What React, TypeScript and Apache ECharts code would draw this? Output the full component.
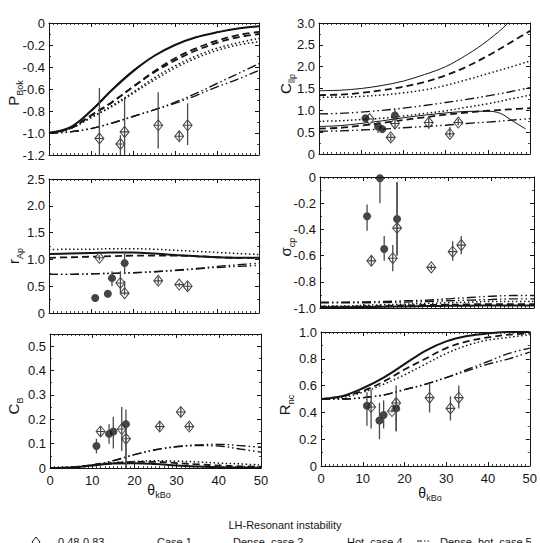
import React, { useEffect, useRef } from 'react';
import * as echarts from 'echarts';

// ---- shared abscissae ----
const THETA = [0, 5, 10, 15, 20, 25, 30, 35, 40, 45, 50];
const FILLED_THETA = [11, 14, 15, 18];
const OPEN_THETA = [12, 17, 18, 26, 31, 33];

// ---- P_Bok ----
const PBOK_SOLID_A = [-1, -0.95, -0.8, -0.61, -0.44, -0.3, -0.2, -0.13, -0.085, -0.05, -0.03];
const PBOK_SOLID_B = [-1, -0.95, -0.79, -0.6, -0.43, -0.3, -0.2, -0.13, -0.085, -0.05, -0.03];
const PBOK_DASHED_A = [-1, -0.96, -0.84, -0.72, -0.58, -0.44, -0.32, -0.23, -0.16, -0.11, -0.08];
const PBOK_DASHED_B = [-1, -0.96, -0.84, -0.72, -0.58, -0.45, -0.34, -0.25, -0.18, -0.13, -0.1];
const PBOK_DOTTED_A = [-1, -0.96, -0.86, -0.75, -0.63, -0.5, -0.39, -0.3, -0.23, -0.18, -0.14];
const PBOK_DOTTED_B = [-1, -0.96, -0.86, -0.76, -0.64, -0.52, -0.41, -0.32, -0.25, -0.2, -0.17];
const PBOK_DDD_A = [-1, -0.99, -0.96, -0.91, -0.85, -0.79, -0.72, -0.64, -0.55, -0.46, -0.37];
const PBOK_DDD_B = [-1, -0.99, -0.96, -0.91, -0.85, -0.79, -0.73, -0.66, -0.58, -0.51, -0.43];
const PBOK_OPEN = [-1.05, -1.1, -0.99, -0.93, -1.03, -0.93];
const PBOK_OPEN_LO = [-1.25, -1.25, -1.25, -1.14, -1.07, -1.11];
const PBOK_OPEN_HI = [-0.59, -1.02, -0.68, -0.63, -0.98, -0.73];

// ---- C_llp ----
const CLLP_SOLID_UP = [1.45, 1.46, 1.5, 1.57, 1.67, 1.82, 2.0, 2.27, 2.6, 3.02, 3.6];
const CLLP_DASHED_UP = [1.35, 1.36, 1.4, 1.46, 1.54, 1.65, 1.8, 2.0, 2.25, 2.53, 2.82];
const CLLP_DOTTED_UP = [1.3, 1.3, 1.32, 1.35, 1.4, 1.47, 1.57, 1.7, 1.84, 1.98, 2.13];
const CLLP_DDD_UP = [0.92, 0.93, 0.96, 1.0, 1.05, 1.11, 1.18, 1.25, 1.33, 1.42, 1.52];
const CLLP_DOTTED_LOW = [0.75, 0.76, 0.79, 0.82, 0.87, 0.93, 0.99, 1.07, 1.15, 1.25, 1.35];
const CLLP_SOLID_LOW_THETA = [0, 5, 10, 15, 20, 25, 30, 35, 40, 43, 46, 49];
const CLLP_SOLID_LOW = [0.63, 0.65, 0.7, 0.76, 0.83, 0.89, 0.94, 0.975, 0.98, 0.93, 0.75, 0.57];
const CLLP_DASHED_LOW = [0.58, 0.6, 0.65, 0.71, 0.78, 0.84, 0.9, 0.95, 0.99, 1.02, 1.05];
const CLLP_DDD_LOW = [0.52, 0.53, 0.55, 0.57, 0.6, 0.63, 0.66, 0.7, 0.73, 0.77, 0.81];
const CLLP_FILLED = [0.82, 0.63, 0.57, 0.88];
const CLLP_FILLED_LO = [0.82, 0.48, 0.57, 0.8];
const CLLP_FILLED_HI = [0.82, 0.76, 0.57, 1.03];
const CLLP_OPEN = [0.8, 0.38, 0.7, 0.72, 0.46, 0.72];
const CLLP_OPEN_LO = [0.8, 0.3, 0.6, 0.58, 0.39, 0.66];
const CLLP_OPEN_HI = [0.82, 0.46, 0.98, 0.87, 0.62, 0.8];

// ---- r_Ap ----
const RAP_DOTTED = [1.18, 1.19, 1.19, 1.2, 1.2, 1.19, 1.17, 1.15, 1.13, 1.11, 1.09];
const RAP_SOLID = [1.1, 1.11, 1.12, 1.13, 1.13, 1.11, 1.08, 1.06, 1.04, 1.03, 1.03];
const RAP_DASHED = [1.03, 1.04, 1.05, 1.06, 1.07, 1.07, 1.07, 1.06, 1.04, 1.03, 1.03];
const RAP_DDD_A = [0.72, 0.72, 0.73, 0.74, 0.75, 0.77, 0.8, 0.83, 0.87, 0.9, 0.93];
const RAP_DDD_B = [0.72, 0.72, 0.73, 0.74, 0.75, 0.77, 0.79, 0.82, 0.85, 0.87, 0.89];
const RAP_FILLED = [0.28, 0.36, 0.65, 0.93];
const RAP_FILLED_LO = [0.28, 0.36, 0.5, 0.75];
const RAP_FILLED_HI = [0.28, 0.36, 0.78, 1.15];
const RAP_OPEN = [1.03, 0.56, 0.37, 0.6, 0.53, 0.5];
const RAP_OPEN_LO = [0.98, 0.38, 0.33, 0.53, 0.49, 0.42];
const RAP_OPEN_HI = [1.08, 0.78, 0.6, 0.67, 0.57, 0.58];

// ---- sigma_cp ----
const SCP_DDD_A = [-0.955, -0.955, -0.953, -0.95, -0.945, -0.94, -0.93, -0.92, -0.91, -0.905, -0.905];
const SCP_DDD_B = [-0.96, -0.96, -0.96, -0.958, -0.955, -0.95, -0.945, -0.94, -0.935, -0.93, -0.93];
const SCP_DOTTED = [-0.985, -0.985, -0.98, -0.975, -0.97, -0.965, -0.96, -0.955, -0.95, -0.95, -0.95];
const SCP_DASHED = [-0.99, -0.99, -0.988, -0.985, -0.98, -0.977, -0.975, -0.972, -0.97, -0.97, -0.97];
const SCP_SOLID = [-0.995, -0.995, -0.993, -0.99, -0.988, -0.985, -0.983, -0.982, -0.98, -0.98, -0.98];
const SCP_FILLED = [-0.3, -0.01, -0.55, -0.32];
const SCP_FILLED_LO = [-0.41, -0.2, -0.64, -0.6];
const SCP_FILLED_HI = [-0.21, -0.01, -0.45, -0.04];
const SCP_OPEN = [-0.64, -0.62, -0.39, -0.69, -0.57, -0.52];
const SCP_OPEN_LO = [-0.68, -0.72, -0.6, -0.71, -0.64, -0.59];
const SCP_OPEN_HI = [-0.6, -0.52, -0.04, -0.67, -0.49, -0.45];

// ---- C_B ----
const CB_DDD_A = [0, 0.002, 0.012, 0.03, 0.055, 0.075, 0.088, 0.095, 0.097, 0.092, 0.085];
const CB_DDD_B = [0, 0.002, 0.012, 0.03, 0.055, 0.075, 0.087, 0.092, 0.09, 0.078, 0.065];
const CB_DOTTED = [0, 0.003, 0.012, 0.022, 0.027, 0.03, 0.028, 0.025, 0.02, 0.017, 0.012];
const CB_DASHED = [0, 0.003, 0.012, 0.02, 0.025, 0.025, 0.02, 0.015, 0.01, 0.007, 0.005];
const CB_SOLID = [0, 0.002, 0.01, 0.018, 0.02, 0.016, 0.01, 0.006, 0.003, 0.002, 0.001];
const CB_FILLED = [0.09, 0.14, 0.15, 0.18];
const CB_FILLED_LO = [0.06, 0.1, 0.08, 0.0];
const CB_FILLED_HI = [0.12, 0.18, 0.21, 0.24];
const CB_OPEN = [0.15, 0.16, 0.12, 0.17, 0.23, 0.17];
const CB_OPEN_LO = [0.13, 0.07, 0.0, 0.15, 0.21, 0.155];
const CB_OPEN_HI = [0.17, 0.25, 0.18, 0.19, 0.25, 0.185];

// ---- R_nc ----
const RNC_SOLID = [0.5, 0.52, 0.58, 0.66, 0.76, 0.86, 0.93, 0.97, 0.99, 1.0, 1.0];
const RNC_DASHED = [0.5, 0.52, 0.56, 0.63, 0.72, 0.8, 0.88, 0.93, 0.96, 0.98, 0.99];
const RNC_DOTTED = [0.5, 0.51, 0.55, 0.61, 0.68, 0.76, 0.84, 0.9, 0.94, 0.96, 0.98];
const RNC_DDD_A = [0.5, 0.5, 0.51, 0.53, 0.57, 0.61, 0.66, 0.72, 0.78, 0.84, 0.88];
const RNC_DDD_B = [0.5, 0.5, 0.51, 0.53, 0.57, 0.61, 0.66, 0.71, 0.76, 0.8, 0.85];
const RNC_FILLED = [0.45, 0.34, 0.38, 0.43];
const RNC_FILLED_LO = [0.3, 0.2, 0.28, 0.26];
const RNC_FILLED_HI = [0.55, 0.47, 0.49, 0.5];
const RNC_OPEN = [0.44, 0.41, 0.47, 0.51, 0.43, 0.51];
const RNC_OPEN_LO = [0.28, 0.4, 0.26, 0.4, 0.34, 0.43];
const RNC_OPEN_HI = [0.57, 0.43, 0.6, 0.62, 0.52, 0.6];

// ---- legend / titles ----
const FIGURE_TITLE = 'LH-Resonant instability';
const LEGEND_ITEMS = ['0.48-0.83', 'Case 1', 'Dense, case 2', 'Hot, case 4', 'Dense, hot, case 5'];
const X_TICKS = { min: 0, max: 50, interval: 10 };

const FONT = '"Liberation Sans", Arial, Helvetica, sans-serif';
const INK = '#151515';

const LS: Record<string, any> = {
  solidThick: { type: 'solid', width: 2 },
  solidThin: { type: 'solid', width: 1 },
  dashed: { type: [7, 4], width: 1.8 },
  dotted: { type: [1.5, 2.5], width: 1.5 },
  ddd: { type: [9, 3, 1.5, 3, 1.5, 3], width: 1.4 },
};

type Curve = { x?: number[]; y: number[]; style: string };
type Marks = { x: number[]; y: number[]; lo: number[]; hi: number[] };
type Panel = {
  grid: { left: number; top: number; width: number; height: number };
  yMin: number; yMax: number; yStep: number;
  showX: boolean; hideTopLabel?: boolean;
  curves: Curve[];
  filled?: Marks; open?: Marks;
  name: [string, string]; nameAt: [number, number];
};

const PANELS: Panel[] = [
  {
    grid: { left: 49, top: 23, width: 210, height: 132 },
    yMin: -1.2, yMax: 0, yStep: 0.2, showX: false,
    curves: [
      { y: PBOK_SOLID_A, style: 'solidThick' }, { y: PBOK_SOLID_B, style: 'solidThin' },
      { y: PBOK_DASHED_A, style: 'dashed' }, { y: PBOK_DASHED_B, style: 'dashed' },
      { y: PBOK_DOTTED_A, style: 'dotted' }, { y: PBOK_DOTTED_B, style: 'dotted' },
      { y: PBOK_DDD_A, style: 'ddd' }, { y: PBOK_DDD_B, style: 'ddd' },
    ],
    open: { x: OPEN_THETA, y: PBOK_OPEN, lo: PBOK_OPEN_LO, hi: PBOK_OPEN_HI },
    name: ['P', 'Bok'], nameAt: [14, 93],
  },
  {
    grid: { left: 319, top: 23, width: 211, height: 131 },
    yMin: 0, yMax: 3, yStep: 0.5, showX: false,
    curves: [
      { y: CLLP_SOLID_UP, style: 'solidThin' }, { y: CLLP_DASHED_UP, style: 'dashed' },
      { y: CLLP_DOTTED_UP, style: 'dotted' }, { y: CLLP_DDD_UP, style: 'ddd' },
      { y: CLLP_DOTTED_LOW, style: 'dotted' },
      { x: CLLP_SOLID_LOW_THETA, y: CLLP_SOLID_LOW, style: 'solidThin' },
      { y: CLLP_DASHED_LOW, style: 'dashed' }, { y: CLLP_DDD_LOW, style: 'ddd' },
    ],
    filled: { x: FILLED_THETA, y: CLLP_FILLED, lo: CLLP_FILLED_LO, hi: CLLP_FILLED_HI },
    open: { x: OPEN_THETA, y: CLLP_OPEN, lo: CLLP_OPEN_LO, hi: CLLP_OPEN_HI },
    name: ['C', 'llp'], nameAt: [286, 84],
  },
  {
    grid: { left: 49, top: 179, width: 210, height: 134 },
    yMin: 0, yMax: 2.5, yStep: 0.5, showX: false,
    curves: [
      { y: RAP_DOTTED, style: 'dotted' }, { y: RAP_SOLID, style: 'solidThick' },
      { y: RAP_DASHED, style: 'dashed' }, { y: RAP_DDD_A, style: 'ddd' }, { y: RAP_DDD_B, style: 'ddd' },
    ],
    filled: { x: FILLED_THETA, y: RAP_FILLED, lo: RAP_FILLED_LO, hi: RAP_FILLED_HI },
    open: { x: OPEN_THETA, y: RAP_OPEN, lo: RAP_OPEN_LO, hi: RAP_OPEN_HI },
    name: ['r', 'Ap'], nameAt: [14, 256],
  },
  {
    grid: { left: 320, top: 177, width: 214, height: 131 },
    yMin: -1, yMax: 0, yStep: 0.2, showX: false,
    curves: [
      { y: SCP_DDD_A, style: 'ddd' }, { y: SCP_DDD_B, style: 'ddd' }, { y: SCP_DOTTED, style: 'dotted' },
      { y: SCP_DASHED, style: 'dashed' }, { y: SCP_SOLID, style: 'solidThick' },
    ],
    filled: { x: FILLED_THETA, y: SCP_FILLED, lo: SCP_FILLED_LO, hi: SCP_FILLED_HI },
    open: { x: OPEN_THETA, y: SCP_OPEN, lo: SCP_OPEN_LO, hi: SCP_OPEN_HI },
    name: ['σ', 'cp'], nameAt: [286, 247],
  },
  {
    grid: { left: 50, top: 334, width: 211, height: 134 },
    yMin: 0, yMax: 0.55, yStep: 0.1, showX: true, hideTopLabel: true,
    curves: [
      { y: CB_DDD_A, style: 'ddd' }, { y: CB_DDD_B, style: 'ddd' }, { y: CB_DOTTED, style: 'dotted' },
      { y: CB_DASHED, style: 'dashed' }, { y: CB_SOLID, style: 'solidThick' },
    ],
    filled: { x: FILLED_THETA, y: CB_FILLED, lo: CB_FILLED_LO, hi: CB_FILLED_HI },
    open: { x: OPEN_THETA, y: CB_OPEN, lo: CB_OPEN_LO, hi: CB_OPEN_HI },
    name: ['C', 'B'], nameAt: [14, 406],
  },
  {
    grid: { left: 321, top: 332, width: 214, height: 134 },
    yMin: 0, yMax: 1, yStep: 0.2, showX: true,
    curves: [
      { y: RNC_SOLID, style: 'solidThick' }, { y: RNC_DASHED, style: 'dashed' },
      { y: RNC_DOTTED, style: 'dotted' }, { y: RNC_DDD_A, style: 'ddd' }, { y: RNC_DDD_B, style: 'ddd' },
    ],
    filled: { x: FILLED_THETA, y: RNC_FILLED, lo: RNC_FILLED_LO, hi: RNC_FILLED_HI },
    open: { x: OPEN_THETA, y: RNC_OPEN, lo: RNC_OPEN_LO, hi: RNC_OPEN_HI },
    name: ['R', 'nc'], nameAt: [285, 405],
  },
];

const DIAMOND = 'path://M0,6L5,0L10,6L5,12ZM0,6L10,6';

const fmt = (v: number) => (Math.abs(v) < 1e-9 ? '0' : v.toFixed(1));

function axisBase(gridIndex: number) {
  return {
    type: 'value' as const,
    gridIndex,
    axisLine: { show: true, onZero: false, lineStyle: { color: INK, width: 1 } },
    axisTick: { show: true, inside: true, length: 4, lineStyle: { color: INK, width: 1 } },
    minorTick: { show: true, length: 2, lineStyle: { color: INK, width: 0.8 } },
    splitLine: { show: false },
    minorSplitLine: { show: false },
  };
}

function subText(main: string, sub: string, x: number, y: number, rotate: boolean, mainSize: number, subSize: number) {
  return {
    type: 'text',
    x, y,
    rotation: rotate ? Math.PI / 2 : 0,
    silent: true,
    style: {
      text: `{m|${main}}{s|${sub}}`,
      align: 'center',
      verticalAlign: 'middle',
      rich: {
        m: { fontSize: mainSize, lineHeight: mainSize + 1, verticalAlign: 'top', fontFamily: FONT, fill: INK },
        s: { fontSize: subSize, lineHeight: subSize, padding: [Math.round(mainSize * 0.6), 0, 0, 0], verticalAlign: 'top', fontFamily: FONT, fill: INK },
      },
    },
  };
}

function buildOption() {
  const grids: any[] = [];
  const xAxes: any[] = [];
  const yAxes: any[] = [];
  const series: any[] = [];

  PANELS.forEach((p, i) => {
    grids.push({ ...p.grid, containLabel: false });
    const xb = axisBase(i);
    xAxes.push({
      ...xb, position: 'bottom', ...X_TICKS,
      minorTick: { ...xb.minorTick, splitNumber: 10 },
      axisLabel: { show: p.showX, color: INK, fontSize: 13, fontFamily: FONT, margin: 6 },
    });
    xAxes.push({
      ...xb, position: 'top', ...X_TICKS,
      minorTick: { ...xb.minorTick, splitNumber: 10 },
      axisLabel: { show: false },
    });
    const yb = axisBase(i);
    yAxes.push({
      ...yb, position: 'left', min: p.yMin, max: p.yMax, interval: p.yStep,
      minorTick: { ...yb.minorTick, splitNumber: 2 },
      axisLabel: {
        show: true, color: INK, fontSize: 13, fontFamily: FONT, margin: 4,
        formatter: fmt, showMaxLabel: p.hideTopLabel ? false : undefined,
      },
    });
    yAxes.push({
      ...yb, position: 'right', min: p.yMin, max: p.yMax, interval: p.yStep,
      minorTick: { ...yb.minorTick, splitNumber: 2 },
      axisLabel: { show: false },
    });

    const xi = 2 * i;
    const yi = 2 * i;

    p.curves.forEach((c) => {
      const xs = c.x || THETA;
      series.push({
        type: 'line', xAxisIndex: xi, yAxisIndex: yi,
        data: xs.map((t, k) => [t, c.y[k]]),
        smooth: 0.35, symbol: 'none', clip: true, silent: true, z: 2,
        lineStyle: { color: INK, ...LS[c.style] },
      });
    });

    const lo = p.yMin, hi = p.yMax;
    const addMarks = (m: Marks | undefined, filled: boolean) => {
      if (!m) return;
      series.push({
        type: 'scatter', xAxisIndex: xi, yAxisIndex: yi, z: 4, silent: true,
        data: m.x.map((t, k) => [t, m.y[k]]),
        symbol: filled ? 'circle' : DIAMOND,
        symbolSize: filled ? 8 : [9, 11],
        itemStyle: filled
          ? { color: INK }
          : { color: '#ffffff', borderColor: INK, borderWidth: 1 },
      });
      series.push({
        type: 'custom', xAxisIndex: xi, yAxisIndex: yi, z: 5, silent: true, clip: true,
        data: m.x.map((t, k) => [t, m.lo[k], m.hi[k]]),
        encode: { x: 0, y: [1, 2] },
        renderItem: (_params: any, api: any) => {
          const t = api.value(0);
          const a = Math.max(lo, Math.min(hi, api.value(1)));
          const b = Math.max(lo, Math.min(hi, api.value(2)));
          const p1 = api.coord([t, a]);
          const p2 = api.coord([t, b]);
          return {
            type: 'line',
            shape: { x1: p1[0], y1: p1[1], x2: p2[0], y2: p2[1] },
            style: { stroke: '#4a4a4a', lineWidth: 1.3 },
          };
        },
      });
    };
    addMarks(p.open, false);
    addMarks(p.filled, true);
  });

  const graphics: any[] = [];
  PANELS.forEach((p, i) => {
    graphics.push(subText(p.name[0], p.name[1], p.nameAt[0], p.nameAt[1], true, 15, 9));
  });
  graphics.push(subText('θ', 'kBo', 159, 490, false, 14, 9));
  graphics.push(subText('θ', 'kBo', 430, 493, false, 14, 9));

  graphics.push({
    type: 'text', x: 285, y: 519, silent: true,
    style: { text: FIGURE_TITLE, align: 'center', verticalAlign: 'top', fontSize: 11, fontFamily: FONT, fill: INK },
  });
  graphics.push({
    type: 'polygon', silent: true,
    shape: { points: [[36, 537], [40, 542], [36, 547], [32, 542]] },
    style: { fill: 'none', stroke: INK, lineWidth: 1 },
  });
  const legendX = [58, 157, 233, 347, 440];
  LEGEND_ITEMS.forEach((txt, k) => {
    graphics.push({
      type: 'text', x: legendX[k], y: 536, silent: true,
      style: { text: txt, align: 'left', verticalAlign: 'top', fontSize: 11, fontFamily: FONT, fill: INK },
    });
  });
  graphics.push({
    type: 'line', silent: true,
    shape: { x1: 417, y1: 541, x2: 431, y2: 541 },
    style: { stroke: INK, lineWidth: 1.2, lineDash: [5, 2, 1.5, 2, 1.5, 2] },
  });

  return {
    animation: false,
    backgroundColor: '#ffffff',
    grid: grids,
    xAxis: xAxes,
    yAxis: yAxes,
    series,
    graphic: graphics,
  };
}

export default function App() {
  const ref = useRef<HTMLDivElement>(null);
  useEffect(() => {
    document.body.style.margin = '0';
    if (!ref.current) return;
    const chart = echarts.init(ref.current, undefined, { renderer: 'svg' });
    chart.setOption(buildOption() as any);
    return () => chart.dispose();
  }, []);
  return <div ref={ref} style={{ width: 540, height: 543 }} />;
}
